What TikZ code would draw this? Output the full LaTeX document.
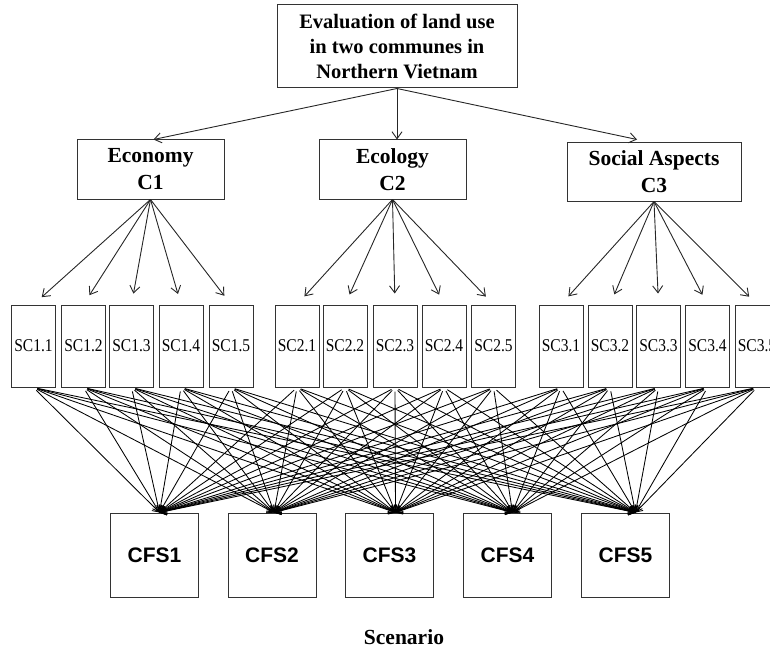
\documentclass[tikz,border=0pt]{standalone}
\usepackage{fontspec}
\setmainfont{Liberation Serif}
\newfontfamily\arialfont{Liberation Sans}
\usetikzlibrary{arrows.meta}

\begin{document}
\begin{tikzpicture}[x=1pt,y=-1pt,
  box/.style={draw=black!80, line width=1pt, inner sep=0pt, align=center},
  crit/.style={box, minimum width=147pt, minimum height=59pt,
    font=\fontsize{21.5}{27}\selectfont\bfseries},
  sub/.style={box, minimum width=44pt, minimum height=82pt,
    font=\fontsize{18}{20}\selectfont},
  cfs/.style={box, minimum width=88pt, minimum height=84pt,
    font=\arialfont\fontsize{21}{24}\selectfont\bfseries},
  arr/.style={-{Straight Barb[length=7pt,width=10pt]}, line width=0.9pt, black!85},
  mesh/.style={-{Straight Barb[length=6pt,width=8pt]}, line width=0.85pt, black},
]
\useasboundingbox (0,0) rectangle (770,655);
\clip (0,0) rectangle (770,655);

% goal
\node[box, minimum width=240pt, minimum height=83pt,
  font=\fontsize{20.5}{25}\selectfont\bfseries] (goal) at (397,46.5)
  {Evaluation of land use\\in two communes in\\Northern Vietnam};

% criteria
\node[crit] (c1) at (150.5,169.5) {Economy\\C1};
\node[crit] (c2) at (392.5,169.5) {Ecology\\C2};
\node[crit, minimum width=174pt, minimum height=58pt] (c3) at (654,172) {Social Aspects\\C3};

\draw[arr] (goal.south) -- ([xshift=3pt]c1.north);
\draw[arr] (goal.south) -- (goal.south |- c2.north);
\draw[arr] (goal.south) -- ([xshift=-17pt,yshift=3pt]c3.north);

% sub-criteria
\foreach \x [count=\i] in {33.5,83.5,131.5,181,231}
  \node[sub] (sc1\i) at (\x,346) {\scalebox{0.86}[1]{SC1.\i}};
\foreach \x [count=\i] in {297,345,395,444,493.5}
  \node[sub] (sc2\i) at (\x,346) {\scalebox{0.86}[1]{SC2.\i}};
\foreach \x [count=\i] in {561,610,658.5,707.5,757}
  \node[sub] (sc3\i) at (\x,346) {\scalebox{0.86}[1]{SC3.\i}};

\foreach \g in {1,2,3}
  \foreach \i in {1,...,5}
    \draw[arr, shorten >=11pt] (c\g.south) -- (sc\g\i.north);

% scenarios
\foreach \x [count=\k] in {154.5,272,389.5,507.5,625.5}
  \node[cfs] (cfs\k) at (\x,555) {CFS\k};

\coordinate (t1) at ([xshift=5pt]cfs1.north);
\coordinate (t2) at ([xshift=2pt]cfs2.north);
\coordinate (t3) at ([xshift=6pt]cfs3.north);
\coordinate (t4) at ([xshift=5pt]cfs4.north);
\coordinate (t5) at ([xshift=10pt]cfs5.north);

\foreach \g in {1,2,3}
  \foreach \i in {1,...,5}
    \foreach \k in {1,...,5}
      \draw[mesh, shorten <=4pt] (sc\g\i.south) -- (t\k);

\node[font=\fontsize{21.5}{25}\selectfont\bfseries] (scen) at (404,637) {Scenario};
\end{tikzpicture}
\end{document}
